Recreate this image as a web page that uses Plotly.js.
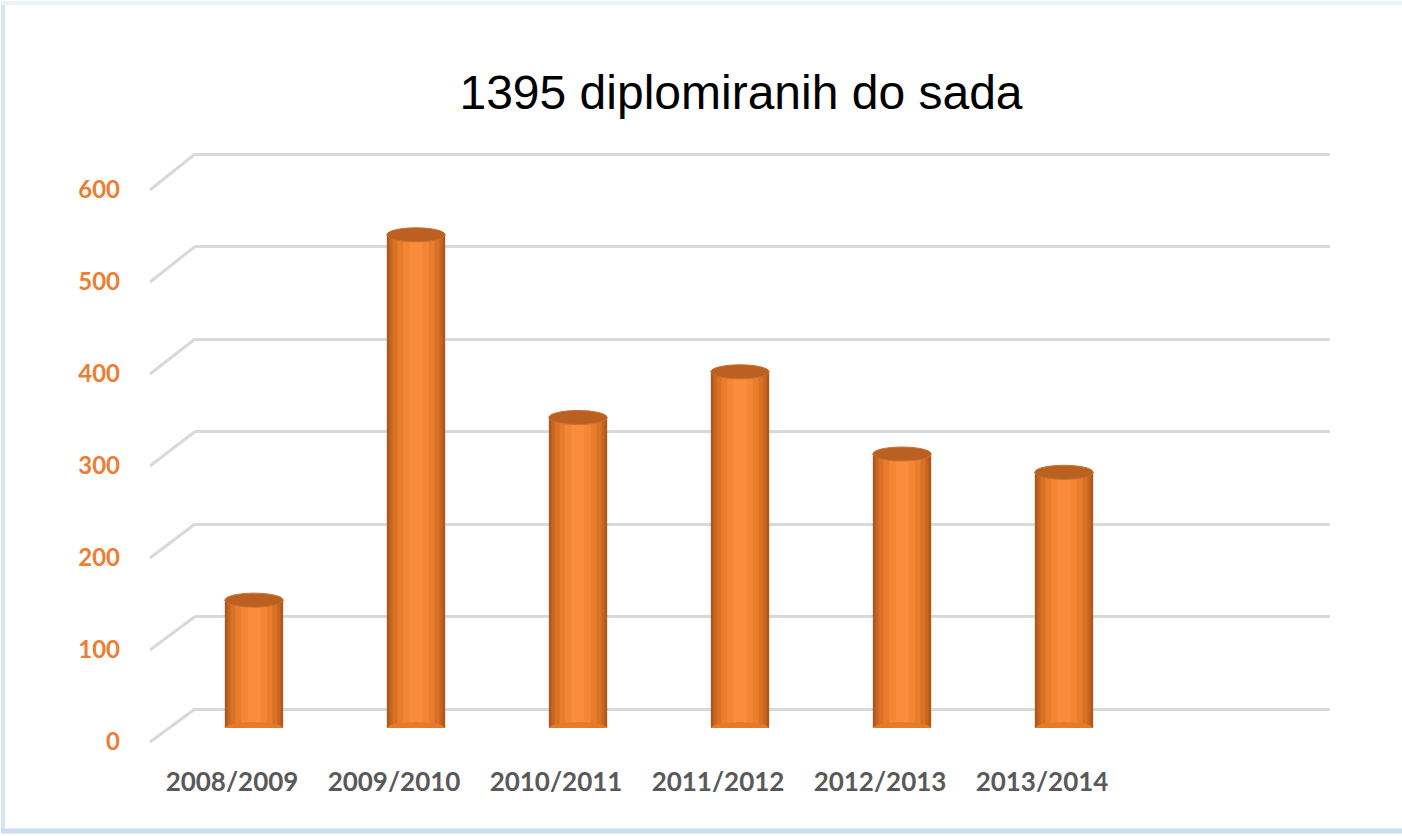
<!DOCTYPE html>
<html>
<head>
<meta charset="utf-8">
<script src="https://cdn.plot.ly/plotly-3.0.1.min.js"></script>
<style>html,body{margin:0;padding:0;background:#fff;overflow:hidden;}#chart{width:1402px;height:836px;}</style>
</head>
<body>
<div id="chart"></div>
<script>
// ---- data ----
const categories = ["2008/2009", "2009/2010", "2010/2011", "2011/2012", "2012/2013", "2013/2014"];
const graduates = [140, 540, 340, 390, 300, 280];
const yTicks = [0, 100, 200, 300, 400, 500, 600];
const titleText = "1395 diplomiranih do sada";

// ---- layout geometry (pixels in a 1402x836 page) ----
const W = 1402, H = 836;
const px = v => v / W;
const py = v => 1 - v / H;
const slotCount = 7;
const catAxisCats = categories.concat([" "]);

// grid (back wall): 0 at y=709px, 600 at y=154px; range padded so edge gridlines are drawn
const gridPad = 12;
const gridScale = (709 - 154) / 600;
const gridRange = [-gridPad, 600 + gridPad];
const gridDom = {x: [px(195), px(1330)], y: [py(709 + gridPad * gridScale), py(154 - gridPad * gridScale)]};
const labelDom = {x: [px(151), px(1285)], y: [py(742), py(190)]};
const barDom = {x: [px(173), px(1307)], y: [py(728), py(180)]};

const idx = categories.map((c, i) => i);

const traces = [];
// invisible carriers for the grid and label axes
traces.push({type: 'scatter', x: categories, y: graduates, xaxis: 'x', yaxis: 'y',
  mode: 'markers', marker: {opacity: 0}, hoverinfo: 'skip', showlegend: false});
traces.push({type: 'scatter', x: categories, y: graduates, xaxis: 'x2', yaxis: 'y2',
  mode: 'markers', marker: {opacity: 0}, hoverinfo: 'skip', showlegend: false});

// cylinder shading: overlaid bars from outer (dark) to inner (bright)
const layerWidths = [0.36, 0.33, 0.29, 0.23, 0.16, 0.08];
const layerColors = ['#ad571b', '#c6651f', '#d97126', '#e97d2e', '#f48634', '#fa8d3b'];
layerWidths.forEach((w, k) => {
  traces.push({type: 'bar', x: idx, y: graduates, xaxis: 'x3', yaxis: 'y3',
    width: w, marker: {color: layerColors[k], line: {width: 0}},
    hoverinfo: k === 0 ? 'y' : 'skip', showlegend: false});
});

const shapes = [];
// perspective floor-to-wall connectors for each gridline
const gy = t => py(709 - t * gridScale);
const ly = t => labelDom.y[0] + (t / 600) * (labelDom.y[1] - labelDom.y[0]);
yTicks.forEach(t => {
  shapes.push({type: 'line', xref: 'paper', yref: 'paper',
    x0: px(150), y0: ly(t), x1: gridDom.x[0], y1: gy(t),
    line: {color: '#d9d9d9', width: 3}, layer: 'below'});
});
// cylinder caps (top) and rounded bases
graduates.forEach((v, i) => {
  shapes.push({type: 'circle', xref: 'x3', yref: 'y3', ysizemode: 'pixel', yanchor: 0,
    x0: i - 0.178, x1: i + 0.178, y0: -6, y1: 6,
    fillcolor: '#e67a2c', line: {width: 0}, layer: 'above'});
  shapes.push({type: 'circle', xref: 'x3', yref: 'y3', ysizemode: 'pixel', yanchor: v,
    x0: i - 0.18, x1: i + 0.18, y0: -7, y1: 7,
    fillcolor: '#bb6020', line: {color: '#c9712f', width: 1}, layer: 'above'});
});
// light blue frame: left strip, bottom band, faint top edge
shapes.push({type: 'rect', xref: 'paper', yref: 'paper', x0: px(1), x1: px(5), y0: py(833), y1: py(2),
  fillcolor: '#d6e4f4', line: {width: 0}, layer: 'below'});
shapes.push({type: 'line', xref: 'paper', yref: 'paper', x0: px(1), x1: px(1402), y0: py(831), y1: py(831),
  line: {color: '#c9dcf0', width: 5}, layer: 'below'});
shapes.push({type: 'line', xref: 'paper', yref: 'paper', x0: px(1), x1: px(1402), y0: py(3), y1: py(3),
  line: {color: '#eef3f9', width: 4}, layer: 'below'});

const hiddenX = {type: 'category', categoryorder: 'array', categoryarray: catAxisCats,
  range: [-0.5, slotCount - 0.5], showgrid: false, zeroline: false, showline: false,
  showticklabels: false, ticks: '', fixedrange: true};

const layout = {
  width: W, height: H,
  margin: {l: 0, r: 0, t: 0, b: 0},
  paper_bgcolor: '#ffffff',
  plot_bgcolor: 'rgba(0,0,0,0)',
  barmode: 'overlay',
  showlegend: false,
  title: {text: titleText, x: px(741), xanchor: 'center', y: py(92), yanchor: 'middle',
    font: {family: 'Liberation Sans, Arial, sans-serif', size: 48, color: '#000000'}},
  xaxis: Object.assign({}, hiddenX, {domain: gridDom.x, anchor: 'y'}),
  yaxis: {domain: gridDom.y, anchor: 'x', range: gridRange, tickvals: yTicks,
    showgrid: true, gridcolor: '#d9d9d9', gridwidth: 3, zeroline: false,
    showticklabels: false, ticks: '', fixedrange: true},
  xaxis2: Object.assign({}, hiddenX, {domain: labelDom.x, anchor: 'y2', showticklabels: true,
    tickfont: {family: 'Lato, Carlito, sans-serif', size: 26, color: '#595959', weight: 'bold'},
    ticklabelstandoff: 22}),
  yaxis2: {domain: labelDom.y, anchor: 'x2', range: [0, 600], tickvals: yTicks,
    ticktext: yTicks.map(String), showgrid: false, zeroline: false, showline: false,
    ticks: '', tickfont: {family: 'Lato, Carlito, sans-serif', size: 24, color: '#ed7d31', weight: 'bold'},
    ticklabelstandoff: 30, fixedrange: true},
  xaxis3: {domain: barDom.x, anchor: 'y3', range: [-0.5, slotCount - 0.5], showgrid: false,
    zeroline: false, showline: false, showticklabels: false, ticks: '', fixedrange: true},
  yaxis3: {domain: barDom.y, anchor: 'x3', range: [0, 600], showgrid: false, zeroline: false,
    showline: false, showticklabels: false, ticks: '', fixedrange: true},
  shapes: shapes
};

Plotly.newPlot('chart', traces, layout, {displayModeBar: false, staticPlot: true});
</script>
</body>
</html>
